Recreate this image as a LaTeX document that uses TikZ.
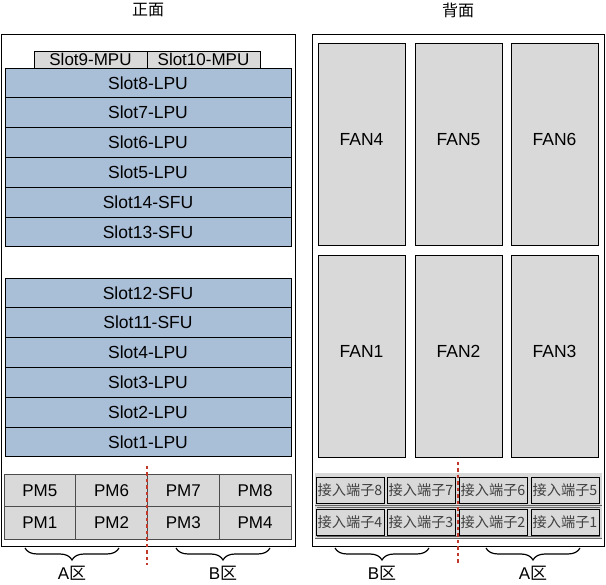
\documentclass[tikz,border=0pt]{standalone}
\usepackage{fontspec}
\setmainfont{Liberation Sans}
\newfontfamily\cjk{Noto Sans CJK SC}
\usepackage{tikz}
\usetikzlibrary{positioning, decorations.pathreplacing}
\usepackage{xcolor}
\definecolor{slotblue}{HTML}{A9BED7}
\definecolor{boxgray}{HTML}{D9D9D9}
\definecolor{cutred}{HTML}{C0392B}

\tikzset{
  frame/.style={draw, line width=0.9pt, inner sep=0pt, outer sep=0pt},
  mpu/.style={draw, line width=0.8pt, fill=boxgray, minimum width=113pt, minimum height=17pt, inner sep=0pt, outer sep=0pt, font=\fontsize{17}{17}\selectfont},
  slot/.style={draw, line width=0.8pt, fill=slotblue, minimum width=286pt, minimum height=29.8pt, inner sep=0pt, outer sep=0pt, text height=12.5pt, text depth=0pt, font=\fontsize{17.5}{17.5}\selectfont},
  pm/.style={draw=black!70, line width=0.8pt, fill=boxgray, minimum width=71.75pt, minimum height=32.5pt, inner sep=0pt, outer sep=0pt, text height=12.3pt, text depth=0pt, font=\fontsize{17}{17}\selectfont},
  fan/.style={draw, line width=0.8pt, fill=boxgray, minimum width=87pt, minimum height=202pt, inner sep=0pt, outer sep=0pt, text height=12.5pt, text depth=10pt, font=\fontsize{17.5}{17.5}\selectfont},
  strip/.style={draw=black!60, line width=0.6pt, double=boxgray, double distance=1.4pt, fill=boxgray, minimum width=285pt, minimum height=31pt, inner sep=0pt, outer sep=0pt},
  term/.style={draw, line width=0.8pt, fill=boxgray, minimum width=68pt, minimum height=26pt, inner sep=0pt, outer sep=0pt, text=black!75, font=\cjk\fontsize{14.2}{14.2}\selectfont},
  zone/.style={decorate, decoration={brace, mirror, amplitude=12pt}, line width=1.2pt},
  cut/.style={draw=cutred, line width=1.2pt, dash pattern=on 3.5pt off 3pt},
  zonelabel/.style={font=\fontsize{17}{17}\selectfont},
  title/.style={font=\cjk\fontsize{16}{16}\selectfont}
}

\begin{document}
\begin{tikzpicture}[x=1pt, y=-1pt]
\useasboundingbox (0,0) rectangle (606,585);

% Titles
\node[title] (fronttitle) at (148,10) {正面};
\node[title] (backtitle) at (458,10) {背面};

% Front frame
\node[frame, anchor=north west, minimum width=294pt, minimum height=512pt] (front) at (1,34) {};

% MPU boards
\node[mpu, anchor=south west] (mpu9) at (34,68) {Slot9-MPU};
\node[mpu, right=0pt of mpu9] (mpu10) {Slot10-MPU};

% Upper slots
\node[slot, anchor=north] (s8) at (148,68) {Slot8-LPU};
\node[slot, below=0pt of s8] (s7) {Slot7-LPU};
\node[slot, below=0pt of s7] (s6) {Slot6-LPU};
\node[slot, below=0pt of s6] (s5) {Slot5-LPU};
\node[slot, below=0pt of s5] (s14) {Slot14-SFU};
\node[slot, below=0pt of s14] (s13) {Slot13-SFU};

% Lower slots
\node[slot, anchor=north] (s12) at (148,278) {Slot12-SFU};
\node[slot, below=0pt of s12] (s11) {Slot11-SFU};
\node[slot, below=0pt of s11] (s4) {Slot4-LPU};
\node[slot, below=0pt of s4] (s3) {Slot3-LPU};
\node[slot, below=0pt of s3] (s2) {Slot2-LPU};
\node[slot, below=0pt of s2] (s1) {Slot1-LPU};

% Power modules
\node[pm, anchor=north west] (pm5) at (4,474) {PM5};
\node[pm, right=0pt of pm5] (pm6) {PM6};
\node[pm, right=0pt of pm6] (pm7) {PM7};
\node[pm, right=0pt of pm7] (pm8) {PM8};
\node[pm, below=0pt of pm5] (pm1) {PM1};
\node[pm, right=0pt of pm1] (pm2) {PM2};
\node[pm, right=0pt of pm2] (pm3) {PM3};
\node[pm, right=0pt of pm3] (pm4) {PM4};

% Back frame
\node[frame, anchor=north west, minimum width=292pt, minimum height=512pt] (back) at (312,34) {};

% Fans
\node[fan, anchor=north west] (fan4) at (318,43) {FAN4};
\node[fan, right=10pt of fan4] (fan5) {FAN5};
\node[fan, right=9pt of fan5] (fan6) {FAN6};
\node[fan, below=10pt of fan4] (fan1) {FAN1};
\node[fan, below=10pt of fan5] (fan2) {FAN2};
\node[fan, below=10pt of fan6] (fan3) {FAN3};

% Terminal strips
\node[strip, anchor=north west] (strip1) at (316,474) {};
\node[strip, below=1.5pt of strip1] (strip2) {};
\node[term, anchor=north west] (t8) at (316,477) {接入端子8};
\node[term, right=3pt of t8] (t7) {接入端子7};
\node[term, right=4pt of t7] (t6) {接入端子6};
\node[term, right=4pt of t6] (t5) {接入端子5};
\node[term, below=6pt of t8] (t4) {接入端子4};
\node[term, right=3pt of t4] (t3) {接入端子3};
\node[term, right=4pt of t3] (t2) {接入端子2};
\node[term, right=4pt of t2] (t1) {接入端子1};

% Cut lines
\coordinate (fcuttop) at (147,466);
\coordinate (fcutbot) at (147,565);
\coordinate (bcuttop) at (458,462);
\coordinate (bcutbot) at (458,565);
\draw[cut] (fcuttop) -- (fcutbot);
\draw[cut] (bcuttop) -- (bcutbot);

% Zones
\coordinate (fa1) at (25,548);
\coordinate (fa2) at (119,548);
\coordinate (fb1) at (176,548);
\coordinate (fb2) at (270,548);
\coordinate (bb1) at (335,548);
\coordinate (bb2) at (429,548);
\coordinate (ba1) at (486,548);
\coordinate (ba2) at (580,548);
\draw[zone] (fa1) -- (fa2);
\draw[zone] (fb1) -- (fb2);
\draw[zone] (bb1) -- (bb2);
\draw[zone] (ba1) -- (ba2);
\node[zonelabel] (fzonea) at (72,573) {A{\cjk 区}};
\node[zonelabel] (fzoneb) at (223,573) {B{\cjk 区}};
\node[zonelabel] (bzoneb) at (382,573) {B{\cjk 区}};
\node[zonelabel] (bzonea) at (533,573) {A{\cjk 区}};

\end{tikzpicture}
\end{document}
